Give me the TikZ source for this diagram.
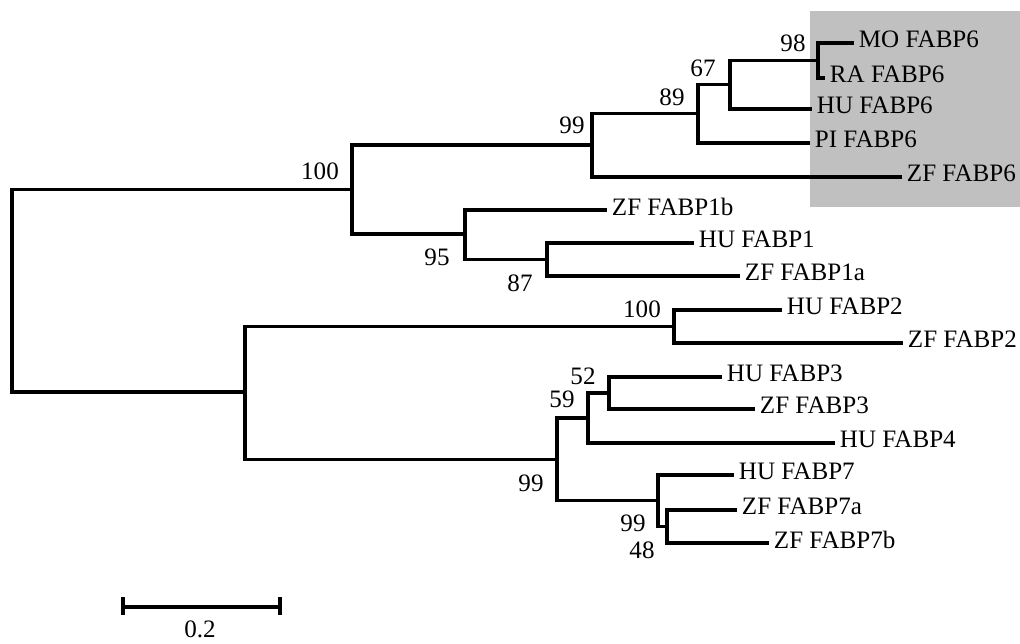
\documentclass[tikz,border=0pt]{standalone}
\usepackage{fontspec}
\setmainfont{Liberation Serif}
\begin{document}
\begin{tikzpicture}[x=0.75pt,y=-0.75pt,
  every node/.style={font=\fontsize{18.8}{21}\selectfont},
  branch/.style={line width=2.3pt,line cap=rect,line join=miter},
  leaf/.style={anchor=west,inner xsep=5pt,inner ysep=0pt,text depth=5pt},
  boot/.style={inner sep=0pt}]
\useasboundingbox (0,0) rectangle (1020,643);
\fill[fill={rgb,255:red,192;green,192;blue,192}] (810,11) rectangle (1020,207);
% internal nodes
\coordinate (root) at (12,291);
\coordinate (n100a) at (352,189.5);
\coordinate (n99a) at (592,145);
\coordinate (n89) at (698,113.5);
\coordinate (n67) at (730,84.5);
\coordinate (n98) at (818,60.5);
\coordinate (n95) at (465,234);
\coordinate (n87) at (547,259.5);
\coordinate (nlow) at (245,392);
\coordinate (n100b) at (674,326.5);
\coordinate (n99b) at (557,459.5);
\coordinate (n59) at (588,418);
\coordinate (n52) at (609,393);
\coordinate (n99c) at (658,500.75);
\coordinate (n48) at (667,526.5);
% leaves
\node[leaf] (mo6) at (852,43) {MO FABP6};
\node[leaf] (ra6) at (823,78) {RA FABP6};
\node[leaf] (hu6) at (810,109) {HU FABP6};
\node[leaf] (pi6) at (808,143) {PI FABP6};
\node[leaf] (zf6) at (900,177) {ZF FABP6};
\node[leaf] (zf1b) at (605,210) {ZF FABP1b};
\node[leaf] (hu1) at (692,243) {HU FABP1};
\node[leaf] (zf1a) at (738,276) {ZF FABP1a};
\node[leaf] (hu2) at (780,310) {HU FABP2};
\node[leaf] (zf2) at (901,343) {ZF FABP2};
\node[leaf] (hu3) at (720,377) {HU FABP3};
\node[leaf] (zf3) at (753,409) {ZF FABP3};
\node[leaf] (hu4) at (833,443) {HU FABP4};
\node[leaf] (hu7) at (732,475) {HU FABP7};
\node[leaf] (zf7a) at (735,510) {ZF FABP7a};
\node[leaf] (zf7b) at (767,543) {ZF FABP7b};
% branches
\draw[branch] (root) |- (n100a);
\draw[branch] (root) |- (nlow);
\draw[branch] (n100a) |- (n99a);
\draw[branch] (n100a) |- (n95);
\draw[branch] (n99a) |- (n89);
\draw[branch] (n99a) |- (zf6.west);
\draw[branch] (n89) |- (n67);
\draw[branch] (n89) |- (pi6.west);
\draw[branch] (n67) |- (n98);
\draw[branch] (n67) |- (hu6.west);
\draw[branch] (n98) |- (mo6.west);
\draw[branch] (n98) |- (ra6.west);
\draw[branch] (n95) |- (zf1b.west);
\draw[branch] (n95) |- (n87);
\draw[branch] (n87) |- (hu1.west);
\draw[branch] (n87) |- (zf1a.west);
\draw[branch] (nlow) |- (n100b);
\draw[branch] (nlow) |- (n99b);
\draw[branch] (n100b) |- (hu2.west);
\draw[branch] (n100b) |- (zf2.west);
\draw[branch] (n99b) |- (n59);
\draw[branch] (n99b) |- (n99c);
\draw[branch] (n59) |- (n52);
\draw[branch] (n59) |- (hu4.west);
\draw[branch] (n52) |- (hu3.west);
\draw[branch] (n52) |- (zf3.west);
\draw[branch] (n99c) |- (hu7.west);
\draw[branch] (n99c) |- (n48);
\draw[branch] (n48) |- (zf7a.west);
\draw[branch] (n48) |- (zf7b.west);
% bootstrap values
\node[boot] (b100a) at (320,171) {100};
\node[boot] (b99a) at (572,125) {99};
\node[boot] (b89) at (672,97) {89};
\node[boot] (b67) at (703,68) {67};
\node[boot] (b98) at (793,43) {98};
\node[boot] (b95) at (437,257) {95};
\node[boot] (b87) at (520,283) {87};
\node[boot] (b100b) at (642,309) {100};
\node[boot] (b52) at (583,376) {52};
\node[boot] (b59) at (562,399) {59};
\node[boot] (b99b) at (531,483) {99};
\node[boot] (b99c) at (633,523) {99};
\node[boot] (b48) at (642,550) {48};
% scale bar
\coordinate (sbl) at (123,607);
\coordinate (sbr) at (280,607);
\draw[line width=3.2pt] (sbl) -- (sbr);
\draw[line width=3.2pt] (123,597) -- (123,615);
\draw[line width=3.2pt] (280,597) -- (280,615);
\node[boot] (sblab) at (200,629) {0.2};
\end{tikzpicture}
\end{document}
